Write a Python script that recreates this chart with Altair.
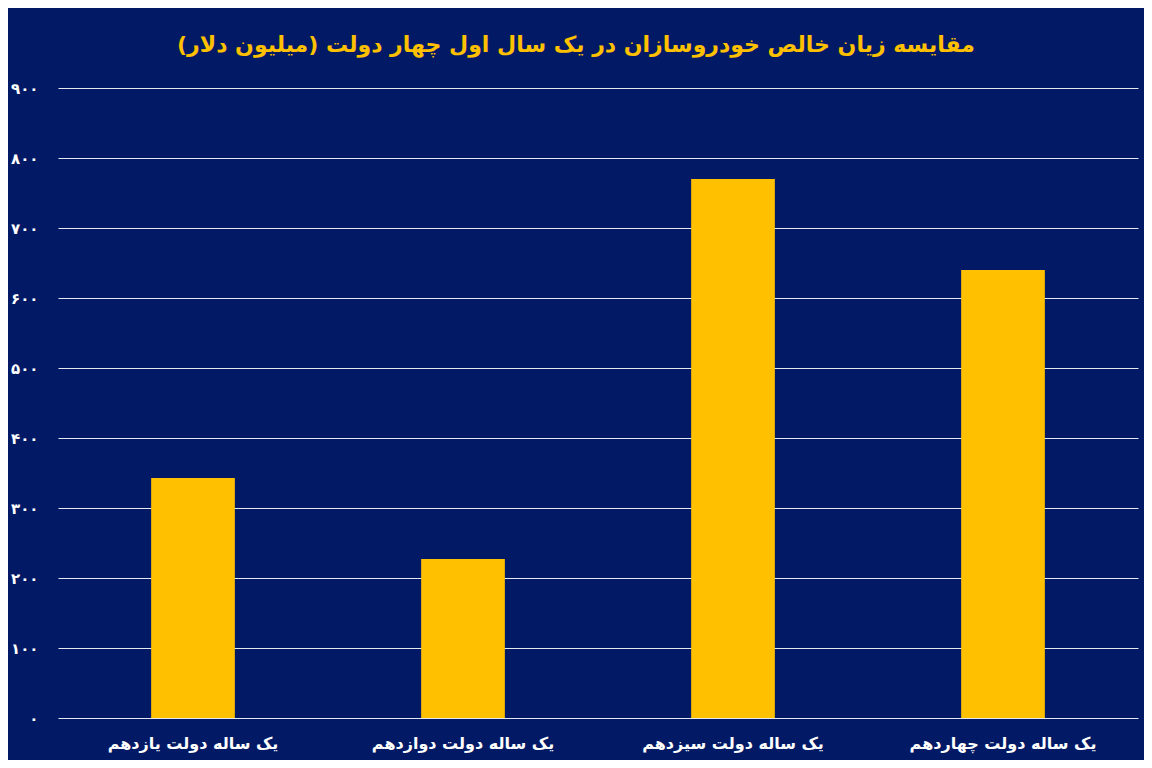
import altair as alt
import pandas as pd

categories = ["یک ساله دولت یازدهم", "یک ساله دولت دوازدهم", "یک ساله دولت سیزدهم", "یک ساله دولت چهاردهم"]
values = [343, 227, 770, 640]
y_ticks = [0, 100, 200, 300, 400, 500, 600, 700, 800, 900]
title_text = "مقایسه زیان خالص خودروسازان در یک سال اول چهار دولت (میلیون دلار)"

df = pd.DataFrame({"cat": categories, "val": values})

persian = "datum.label"
for i, d in enumerate("۰۱۲۳۴۵۶۷۸۹"):
    persian = f"replace({persian}, regexp('{i}', 'g'), '{d}')"

bg = "#021A66"
yellow = "#FFC000"

chart = alt.Chart(df).mark_bar(color=yellow).encode(
    x=alt.X("cat:N", sort=categories, title=None,
            scale=alt.Scale(paddingInner=0.69, paddingOuter=0.345),
            axis=alt.Axis(labelAngle=0, labelColor="white", labelFont="DejaVu Sans",
                          labelFontWeight="bold", labelFontSize=16, labelPadding=17,
                          labelLimit=0, ticks=False, domain=False, grid=False)),
    y=alt.Y("val:Q", title=None,
            scale=alt.Scale(domain=[0, 900], nice=False),
            axis=alt.Axis(values=y_ticks, labelExpr=persian, labelColor="white",
                          labelFont="DejaVu Sans", labelFontWeight="bold", labelFontSize=15,
                          labelPadding=20, ticks=False, domain=False,
                          grid=True, gridColor="white", gridWidth=1, gridOpacity=0.9)),
).properties(
    width=1080, height=630,
    background=bg,
    padding={"left": 50, "top": 80, "right": 6, "bottom": 42},
    autosize=alt.AutoSizeParams(type="none"),
    title=alt.TitleParams(title_text, color=yellow, font="DejaVu Sans", fontWeight="bold",
                          fontSize=22, anchor="middle", offset=24, dx=-22),
).configure_view(stroke=None, fill=bg)

chart.save("out.html", embed_options={"renderer": "svg", "actions": False})
